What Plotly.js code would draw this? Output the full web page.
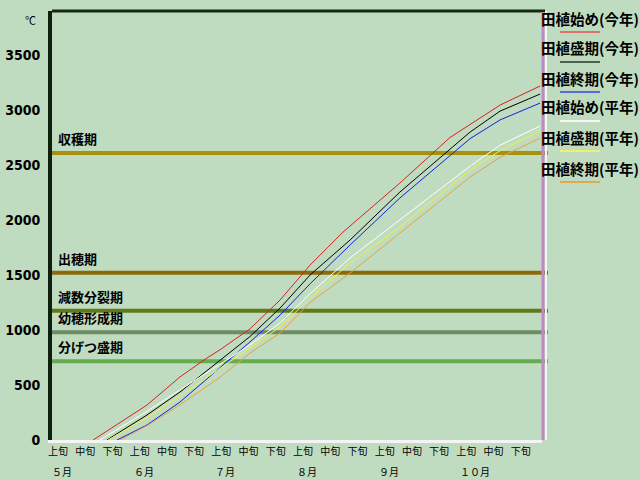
<!DOCTYPE html>
<html>
<head>
<meta charset="utf-8">
<script src="https://cdn.plot.ly/plotly-3.0.1.min.js"></script>
<style>
  html, body { margin: 0; padding: 0; background: #c0dcc0; }
  #chart { width: 640px; height: 480px; }
</style>
</head>
<body>
<div id="chart"></div>
<script>
// x is measured in decades (旬) from 5月上旬 = 0, 18 decades up to end of 10月
const decadeNames = ['上旬', '中旬', '下旬'];
const monthNames = ['５月', '６月', '７月', '８月', '９月', '１０月'];
const yTickValues = [0, 500, 1000, 1500, 2000, 2500, 3000, 3500];

// growth stages (accumulated temperature, ℃)
const stageNames = ['収穫期', '出穂期', '減数分裂期', '幼穂形成期', '分げつ盛期'];
const stageValues = [2610, 1520, 1175, 980, 715];
const stageColors = ['#a8900f', '#8c6a08', '#607818', '#6e8c64', '#66ac50'];

// accumulated temperature curves
const seriesNames = ['田植始め(今年)', '田植盛期(今年)', '田植終期(今年)', '田植始め(平年)', '田植盛期(平年)', '田植終期(平年)'];
const seriesColors = ['#d82020', '#000000', '#1020e0', '#ffffff', '#f0f040', '#e8a040'];
const swatchColors = ['#e07070', '#4a624a', '#5a6ad8', '#f4f4f4', '#f0f070', '#e0a850'];

const xStartNow = [1.51, 2.24, 3.49, 4.70, 5.69, 6.17, 7.27, 8.38, 9.48, 10.69, 12.78, 14.62, 15.36, 16.46, 17.93];
const yStartNow = [0, 118, 318, 573, 745, 820, 1010, 1273, 1590, 1890, 2336, 2750, 2870, 3045, 3218];

const xPeakNow = [2.02, 3.49, 4.70, 6.17, 7.27, 8.38, 9.48, 10.95, 12.78, 15.36, 16.46, 17.93];
const yPeakNow = [0, 227, 436, 727, 940, 1200, 1500, 1818, 2254, 2800, 2990, 3145];

const xEndNow = [2.39, 3.49, 4.70, 6.17, 7.27, 8.38, 9.48, 10.95, 12.78, 15.36, 16.46, 17.93];
const yEndNow = [0, 136, 345, 655, 891, 1136, 1420, 1773, 2200, 2740, 2910, 3063];

const xStartAvg = [1.76, 3.49, 4.70, 6.17, 7.27, 8.38, 9.48, 10.95, 12.78, 15.36, 16.46, 17.93];
const yStartAvg = [0, 260, 455, 690, 864, 1064, 1330, 1655, 2000, 2490, 2680, 2854];

const xPeakAvg = [2.06, 3.49, 4.70, 6.17, 7.27, 8.38, 9.48, 10.95, 12.78, 15.36, 16.46, 17.93];
const yPeakAvg = [0, 205, 400, 650, 845, 1027, 1290, 1609, 1936, 2455, 2630, 2809];

const xEndAvg = [2.50, 3.49, 4.70, 6.17, 7.27, 8.38, 9.48, 10.95, 12.78, 15.36, 16.46, 17.93];
const yEndAvg = [0, 130, 320, 570, 790, 973, 1250, 1518, 1882, 2391, 2570, 2745];

const xs = [xStartNow, xPeakNow, xEndNow, xStartAvg, xPeakAvg, xEndAvg];
const ys = [yStartNow, yPeakNow, yEndNow, yStartAvg, yPeakAvg, yEndAvg];

// plot box in pixels
const L = 52, R = 542, T = 11, B = 440;
const px = (x) => (x - L) / (R - L);
const py = (y) => (B - y) / (B - T);

let traces = [];
seriesNames.forEach((name, i) => {
    traces.push({
        x: xs[i],
        y: ys[i],
        mode: 'lines',
        name: name,
        line: { color: seriesColors[i], width: 1 },
        hoverinfo: 'skip'
    });
});

let tickVals = [];
let tickText = [];
for (let i = 0; i < 18; i++) {
    tickVals.push(i + 0.22);
    tickText.push(decadeNames[i % 3]);
}

let shapes = [];
let annotations = [];

stageNames.forEach((name, i) => {
    shapes.push({
        type: 'line', xref: 'paper', yref: 'y', layer: 'below',
        x0: 0, x1: px(548), y0: stageValues[i], y1: stageValues[i],
        line: { color: stageColors[i], width: 4 }
    });
    annotations.push({
        text: name, xref: 'paper', yref: 'y', x: 0, y: stageValues[i],
        xanchor: 'left', yanchor: 'bottom', xshift: 4, yshift: 3,
        showarrow: false,
        font: { family: 'Noto Sans CJK JP', size: 13, color: '#000', weight: 'bold' }
    });
});

monthNames.forEach((m, i) => {
    annotations.push({
        text: m, xref: 'x', yref: 'paper', x: i * 3, y: 0,
        xanchor: 'left', yanchor: 'top', xshift: -2, yshift: -22,
        showarrow: false,
        font: { family: 'Noto Sans CJK JP', size: 10, color: '#000' }
    });
});

// legend: name with a short colour line under it
const legendY = [18, 48, 78, 107, 137, 168];
seriesNames.forEach((name, i) => {
    annotations.push({
        text: name, xref: 'paper', yref: 'paper', x: px(539), y: py(legendY[i]),
        xanchor: 'left', yanchor: 'middle', showarrow: false,
        font: { family: 'Noto Sans CJK JP', size: 14.5, color: '#000', weight: 'bold' }
    });
    shapes.push({
        type: 'line', xref: 'paper', yref: 'paper',
        x0: px(560), x1: px(600), y0: py(legendY[i] + 14), y1: py(legendY[i] + 14),
        line: { color: swatchColors[i], width: 2 }
    });
});

annotations.push({
    text: '℃', xref: 'paper', yref: 'paper', x: px(30), y: py(20),
    xanchor: 'center', yanchor: 'middle', showarrow: false,
    font: { family: 'Noto Sans CJK JP', size: 11, color: '#000' }
});

// frame: top border, right purple edge with white beside it
shapes.push({
    type: 'line', xref: 'paper', yref: 'paper',
    x0: 0, x1: px(545), y0: 1, y1: 1,
    line: { color: '#142814', width: 3 }
});
shapes.push({
    type: 'line', xref: 'paper', yref: 'paper',
    x0: px(546), x1: px(546), y0: 0, y1: 1,
    line: { color: '#f4f4f4', width: 2 }
});
shapes.push({
    type: 'line', xref: 'paper', yref: 'paper',
    x0: px(543), x1: px(543), y0: 0, y1: py(12),
    line: { color: '#c088c8', width: 3 }
});

var layout = {
    width: 640,
    height: 480,
    margin: { l: L, r: 640 - R, t: T, b: 480 - B },
    paper_bgcolor: '#c0dcc0',
    plot_bgcolor: '#c0dcc0',
    showlegend: false,
    xaxis: {
        range: [0, 18],
        showgrid: false,
        zeroline: false,
        showline: true,
        linecolor: '#f4f4f4',
        linewidth: 3,
        tickvals: tickVals,
        ticktext: tickText,
        ticks: '',
        tickangle: 0,
        tickfont: { family: 'Noto Sans CJK JP', size: 10, color: '#000' }
    },
    yaxis: {
        range: [0, 3900],
        showgrid: false,
        zeroline: false,
        showline: true,
        linecolor: '#0d200d',
        linewidth: 4,
        tickvals: yTickValues,
        ticktext: yTickValues.map(String),
        ticks: '',
        ticklabelstandoff: 5,
        tickfont: { family: 'Liberation Sans Narrow, DejaVu Sans Condensed, sans-serif', size: 14, color: '#000', weight: 'bold' }
    },
    shapes: shapes,
    annotations: annotations
};

Plotly.newPlot('chart', traces, layout, { staticPlot: true });
</script>
</body>
</html>
